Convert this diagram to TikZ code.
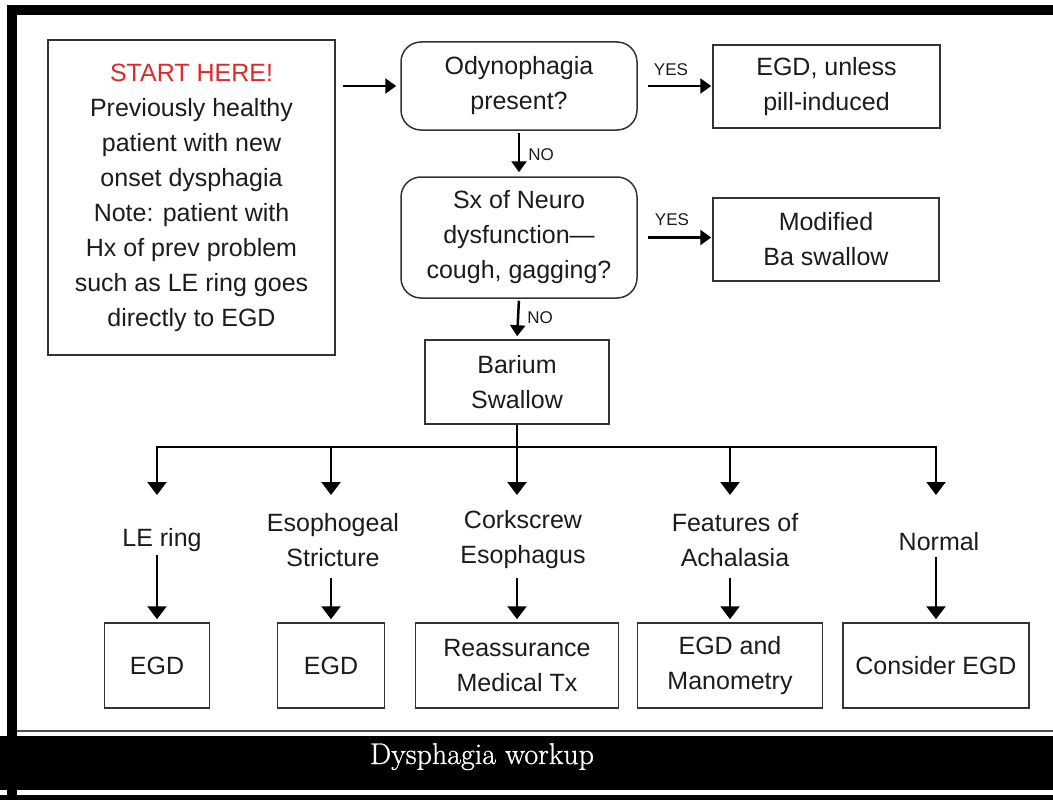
\documentclass[tikz,border=0pt]{standalone}
\usepackage{fontspec}
\usetikzlibrary{arrows.meta}
\newfontfamily\arial{Liberation Sans}
\newfontfamily\titlefont[FakeBold=0.8]{Latin Modern Roman}
\definecolor{startred}{RGB}{222,42,42}
\definecolor{ink}{RGB}{28,28,28}
\begin{document}
\begin{tikzpicture}[x=1pt,y=-1pt,
  box/.style={draw=black!80, line width=1.5pt, fill=white, inner sep=0pt, align=center,
    font=\arial\fontsize{25}{35}\selectfont, text=ink},
  rbox/.style={box, rounded corners=20pt},
  lbl/.style={inner sep=0pt, align=center, font=\arial\fontsize{25}{35}\selectfont, text=ink},
  small/.style={inner sep=0pt, font=\arial\fontsize{17}{17}\selectfont, text=ink},
  arr/.style={line width=2.5pt, -{Triangle[width=19pt,length=13pt]}},
  harr/.style={line width=2.5pt, -{Triangle[width=15pt,length=11pt]}}]
\useasboundingbox (0,0) rectangle (1053,800);
% frame
\fill[white] (0,0) rectangle (1053,800);
\fill[black] (7,5) rectangle (1053,15);
\fill[black] (7,5) rectangle (17,800);
\draw[black!70, line width=2pt] (17,731) -- (1053,731);
\fill[black] (0,736) rectangle (1053,790);
\fill[black] (0,795) rectangle (1053,800);
\node[text=white, font=\titlefont\fontsize{30}{30}\selectfont, anchor=base, inner sep=0pt] (title) at (482,764) {Dysphagia workup};
% boxes
\node[box, minimum width=287pt, minimum height=315pt] (start) at (191.5,197.5)
  {{\color{startred}START HERE!}\\Previously healthy\\patient with new\\onset dysphagia\\Note: patient with\\Hx of prev problem\\such as LE ring goes\\directly to EGD};
\node[rbox, minimum width=236pt, minimum height=88pt] (odyno) at (519,86) {Odynophagia\\present?};
\node[box, minimum width=227pt, minimum height=83pt] (egd1) at (826.5,86.5) {EGD, unless\\pill-induced};
\node[rbox, minimum width=236pt, minimum height=121pt] (sx) at (519,237.5) {Sx of Neuro\\dysfunction—\\cough, gagging?};
\node[box, minimum width=226pt, minimum height=83pt] (mod) at (826,239.5) {Modified\\Ba swallow};
\node[box, minimum width=184pt, minimum height=84pt] (barium) at (517,382) {Barium\\Swallow};
% labels
\node[lbl] (le) at (162,540) {LE ring};
\node[lbl] (eso) at (333,540) {Esophogeal\\Stricture};
\node[lbl] (cork) at (523,540) {Corkscrew\\Esophagus};
\node[lbl] (feat) at (735,540) {Features of\\Achalasia};
\node[lbl] (norm) at (939,542) {Normal};
% bottom boxes
\node[box, minimum width=105pt, minimum height=85pt] (b1) at (157,665.5) {EGD};
\node[box, minimum width=107pt, minimum height=85pt] (b2) at (331,665.5) {EGD};
\node[box, minimum width=203pt, minimum height=85pt] (b3) at (517,665.5) {Reassurance\\Medical Tx};
\node[box, minimum width=185pt, minimum height=85pt] (b4) at (730,665.5) {EGD and\\Manometry};
\node[box, minimum width=186pt, minimum height=85pt] (b5) at (936,665.5) {Consider EGD};
% small labels
\node[small] (yes1) at (671,70) {YES};
\node[small] (yes2) at (672,220) {YES};
\node[small] (no1) at (541,155) {NO};
\node[small] (no2) at (540,318) {NO};
% connectors
\draw[harr, shorten <=7pt, shorten >=4pt] (start.east |- odyno.west) -- (odyno.west);
\draw[harr, shorten <=10pt, shorten >=1pt] (odyno.east) -- (egd1.west |- odyno.east);
\draw[harr, shorten <=10pt, shorten >=1pt] (sx.east) -- (mod.west |- sx.east);
\draw[harr, shorten <=2pt, shorten >=4pt] (odyno.south) -- (sx.north);
\draw[harr, shorten <=2pt, shorten >=3pt] (sx.south) -- (barium.north);
% bus
\coordinate (bus) at (517,447);
\coordinate (t1) at (157,495);
\coordinate (t2) at (331,495);
\coordinate (t3) at (517,495);
\coordinate (t4) at (730,495);
\coordinate (t5) at (936,495);
\draw[arr] (barium.south) -- (t3);
\draw[arr] (bus) -| (t1);
\draw[arr] (bus) -| (t5);
\draw[arr] (t2 |- bus) -- (t2);
\draw[arr] (t4 |- bus) -- (t4);
% second level
\draw[arr, shorten <=3pt, shorten >=3pt] (b1.north |- le.south) -- (b1.north);
\draw[arr, shorten <=11pt, shorten >=3pt] (b2.north |- eso.south) -- (b2.north);
\draw[arr, shorten <=9pt, shorten >=3pt] (b3.north |- cork.south) -- (b3.north);
\draw[arr, shorten <=11pt, shorten >=3pt] (b4.north |- feat.south) -- (b4.north);
\draw[arr, shorten <=6pt, shorten >=3pt] (b5.north |- norm.south) -- (b5.north);
\end{tikzpicture}
\end{document}
